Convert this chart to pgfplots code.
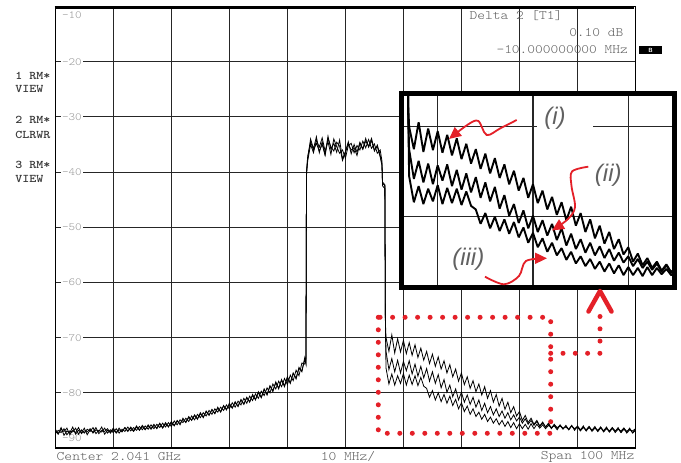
\documentclass[border=0pt]{standalone}
\usepackage{fontspec}
\usepackage{pgfplots}
\pgfplotsset{compat=1.18}
\usepackage{pgfplotstable}
\usetikzlibrary{arrows.meta}
\newfontfamily\cour{lmmonolt10-regular.otf}[FakeStretch=1.14, BoldFont=lmmonolt10-bold.otf, BoldFeatures={FakeStretch=1.14}]
\newfontfamily\isans{Liberation Sans}
\definecolor{annred}{RGB}{228,32,40}
\definecolor{ticklab}{RGB}{150,150,150}
\definecolor{txtgray}{RGB}{95,95,95}

\pgfplotstableread{
x a b c
0 -86.6 -87.4 -86.9
0.5 -87.4 -86.8 -87.5
1 -86.3 -87.2 -86.6
1.5 -87.7 -86.5 -87.0
2 -86.9 -87.6 -86.4
2.5 -87.3 -86.9 -87.6
3 -86.2 -87.1 -86.8
3.5 -87.5 -86.4 -87.2
4 -86.8 -87.5 -86.3
4.5 -87.2 -86.7 -87.4
5 -86.4 -87.3 -86.9
5.5 -87.6 -86.6 -87.1
6 -86.7 -87.0 -86.5
6.5 -87.1 -86.3 -87.3
7 -86.3 -87.4 -86.7
7.5 -87.4 -86.8 -87.0
8 -86.8 -87.1 -86.2
8.5 -87.0 -86.4 -87.5
9 -86.5 -87.3 -86.8
9.5 -87.3 -86.7 -87.1
10 -86.6 -87.2 -86.4
10.5 -87.2 -86.5 -87.3
11 -86.4 -87.3 -86.7
11.5 -87.1 -86.6 -87.0
12 -86.3 -87.0 -86.3
12.5 -87.0 -86.2 -86.9
13 -86.2 -86.9 -86.4
13.5 -86.9 -86.3 -87.0
14 -86.0 -86.8 -86.2
14.5 -86.8 -86.1 -86.7
15 -86.1 -86.7 -85.9
15.5 -86.7 -86.0 -86.6
16 -85.8 -86.6 -86.0
16.5 -86.5 -85.8 -86.6
17 -85.7 -86.5 -85.9
17.5 -86.5 -85.7 -86.4
18 -85.6 -86.3 -85.5
18.5 -86.3 -85.5 -86.4
19 -85.4 -86.2 -85.6
19.5 -86.2 -85.4 -86.1
20 -85.2 -86.1 -85.4
20.5 -86.0 -85.1 -85.9
21 -85.0 -85.8 -85.1
21.5 -85.8 -84.9 -85.6
22 -84.6 -85.4 -84.8
22.5 -85.4 -84.6 -85.3
23 -84.3 -85.2 -84.5
23.5 -85.0 -84.2 -84.9
24 -84.0 -84.9 -84.1
24.5 -84.8 -83.9 -84.7
25 -83.6 -84.5 -83.8
25.5 -84.5 -83.6 -84.4
26 -83.3 -84.2 -83.4
26.5 -84.1 -83.2 -84.0
27 -83.0 -83.9 -83.1
27.5 -83.8 -82.9 -83.7
28 -82.6 -83.5 -82.8
28.5 -83.5 -82.6 -83.4
29 -82.3 -83.2 -82.4
29.5 -83.1 -82.2 -83.0
30 -81.9 -82.9 -82.1
30.5 -82.8 -81.8 -82.7
31 -81.6 -82.6 -81.8
31.5 -82.5 -81.5 -82.4
32 -81.2 -82.2 -81.3
32.5 -82.1 -81.0 -82.0
33 -80.8 -81.9 -80.9
33.5 -81.7 -80.6 -81.6
34 -80.3 -81.4 -80.5
34.5 -81.3 -80.2 -81.2
35 -79.8 -81.0 -80.0
35.5 -80.9 -79.7 -80.8
36 -79.3 -80.5 -79.4
36.5 -80.4 -79.1 -80.3
37 -78.7 -80.0 -78.8
37.5 -79.8 -78.4 -79.6
38 -78.0 -79.3 -78.2
38.5 -79.3 -77.9 -79.1
39 -77.6 -78.9 -77.7
39.5 -78.9 -77.4 -78.7
40 -77.1 -78.5 -77.2
40.5 -78.3 -76.8 -78.2
41 -76.4 -77.8 -76.5
41.5 -77.5 -75.9 -77.3
42 -75.4 -76.9 -75.6
42.5 -76.2 -74.6 -76.0
43 -73.6 -74.8 -73.9
43.2 -74.5 -73.8 -74.8
43.3 -40.0 -40.5 -39.8
43.5 -37.5 -38.0 -37.2
44.0 -34.0 -35.0 -34.5
44.5 -35.8 -36.5 -36.0
45.0 -33.6 -34.2 -34.8
45.5 -36.5 -35.5 -36.2
46.0 -34.5 -33.8 -35.0
46.5 -36.8 -36.2 -37.0
47.0 -33.5 -34.5 -33.9
47.5 -35.9 -36.8 -35.4
48.0 -34.8 -34.0 -36.2
48.5 -36.4 -35.4 -34.6
49.0 -34.2 -36.6 -35.3
49.5 -37.6 -36.0 -37.9
50.0 -36.3 -37.5 -36.4
50.5 -34.5 -35.2 -34.9
51.0 -36.7 -34.8 -36.0
51.5 -35.0 -36.5 -35.6
52.0 -36.4 -35.2 -37.0
52.5 -34.6 -36.0 -34.8
53.0 -35.8 -34.4 -35.9
53.5 -33.9 -35.6 -34.4
54.0 -35.5 -34.1 -35.3
54.5 -34.3 -35.7 -33.9
55.0 -36.2 -34.9 -36.0
55.5 -35.1 -36.6 -35.4
56.0 -37.0 -36.0 -37.3
56.3 -38.5 -38.0 -38.8
56.4 -42.0 -42.5 -41.8
56.8 -42.5 -43.0 -42.3
56.9 -67.5 -68.5 -68.0
57.0 -70.0 -72.5 -75.5
57.5 -72.5 -75.8 -78.4
58.0 -69.5 -73.8 -76.6
58.5 -72.8 -76.2 -78.6
59.0 -70.2 -74.1 -76.9
59.5 -72.6 -76.4 -78.3
60.0 -70.5 -74.3 -76.5
60.5 -72.9 -76.0 -78.6
61.0 -70.9 -74.2 -76.8
61.5 -73.2 -76.6 -78.5
62.0 -71.3 -74.8 -76.9
62.5 -73.6 -77.0 -78.7
63.0 -71.9 -75.2 -77.2
63.5 -74.1 -77.3 -78.8
64.0 -72.5 -75.6 -79.2
64.5 -74.7 -77.9 -80.8
65.0 -73.0 -76.2 -79.6
65.5 -75.2 -78.3 -81.3
66.0 -73.5 -76.7 -80.0
66.5 -75.7 -79.1 -81.6
67.0 -74.2 -77.6 -80.3
67.5 -76.4 -79.9 -81.9
68.0 -74.9 -78.6 -80.6
68.5 -77.1 -80.7 -82.3
69.0 -75.7 -79.3 -81.2
69.5 -77.9 -81.3 -82.9
70.0 -76.4 -79.9 -81.8
70.5 -78.5 -81.7 -83.4
71.0 -77.1 -80.4 -82.4
71.5 -79.2 -82.1 -83.9
72.0 -77.8 -80.8 -82.9
72.5 -79.8 -82.6 -84.3
73.0 -78.4 -81.3 -83.5
73.5 -80.4 -83.2 -84.8
74.0 -78.9 -81.9 -83.9
74.5 -81.0 -83.6 -85.2
75.0 -79.6 -82.5 -84.4
75.5 -81.7 -84.0 -85.5
76.0 -80.3 -82.9 -84.7
76.5 -82.4 -84.3 -85.8
77.0 -81.0 -83.3 -85.0
77.5 -83.0 -84.6 -86.1
78.0 -81.7 -83.6 -85.2
78.5 -83.6 -84.9 -86.3
79.0 -82.5 -84.0 -85.4
79.5 -84.2 -85.1 -86.5
80.0 -83.4 -84.4 -85.6
80.5 -85.0 -85.5 -86.5
81.0 -84.1 -84.7 -85.7
81.5 -85.4 -85.7 -86.6
82.0 -84.6 -85.0 -85.6
82.5 -85.7 -85.9 -86.5
83.0 -85.0 -85.2 -85.7
83.5 -86.0 -86.1 -86.4
84.0 -85.3 -85.4 -85.8
84.5 -86.2 -86.2 -86.5
85.0 -85.5 -85.6 -85.9
85.5 -86.4 -86.5 -86.3
86.0 -85.7 -85.8 -86.0
86.5 -86.5 -86.3 -86.7
87.0 -85.8 -86.0 -85.9
87.5 -86.6 -86.5 -86.4
88.0 -85.9 -86.1 -86.2
88.5 -86.7 -86.7 -86.6
89.0 -86.0 -86.0 -85.9
89.5 -86.5 -86.6 -86.8
90.0 -86.1 -86.2 -86.0
90.5 -86.8 -86.9 -86.7
91.0 -86.0 -86.3 -86.2
91.5 -86.9 -86.7 -86.9
92.0 -86.3 -86.1 -86.1
92.5 -86.8 -87.0 -86.8
93.0 -86.1 -86.4 -86.3
93.5 -87.0 -86.8 -87.0
94.0 -86.4 -86.2 -86.2
94.5 -86.9 -87.1 -86.9
95.0 -86.2 -86.5 -86.4
95.5 -87.1 -86.9 -87.1
96.0 -86.5 -86.3 -86.3
96.5 -87.0 -87.2 -86.9
97.0 -86.3 -86.6 -86.5
97.5 -87.2 -86.9 -87.2
98.0 -86.6 -86.4 -86.4
98.5 -87.1 -87.3 -87.0
99.0 -86.4 -86.7 -86.6
99.5 -87.3 -86.9 -87.2
100 -86.8 -86.5 -86.7
}\spec

\begin{document}
\begin{tikzpicture}
\path[use as bounding box] (0,0) rectangle (681pt,463pt);
% ---------------- main analyzer screen ----------------
\begin{axis}[
  at={(55.3pt,15pt)}, anchor=south west, scale only axis,
  width=580.2pt, height=441.5pt,
  xmin=0, xmax=100, ymin=-90, ymax=-10,
  xtick={0,10,...,100}, ytick={-90,-80,...,-10},
  xticklabel={\mbox{}}, yticklabel={\mbox{}},
  major tick length=0pt,
  grid=major, major grid style={black!85, line width=1.1pt},
  axis line style={line width=1.2pt},
]
\begin{scope}[every node/.style={font=\cour\fontsize{11}{12}\selectfont, text=ticklab, inner xsep=1pt, inner ysep=0.5pt, anchor=west}]
\node at (axis cs:0.95,-11.55) {-10};
\node[fill=white] at (axis cs:0.95,-20) {-20};
\node[fill=white] at (axis cs:0.95,-30) {-30};
\node[fill=white] at (axis cs:0.95,-40) {-40};
\node[fill=white] at (axis cs:0.95,-50) {-50};
\node[fill=white] at (axis cs:0.95,-60) {-60};
\node[fill=white] at (axis cs:0.95,-70) {-70};
\node[fill=white] at (axis cs:0.95,-80) {-80};
\node at (axis cs:0.95,-88.2) {-90};
\end{scope}
\addplot[black, line width=0.8pt, mark=none] table[x=x, y=a] {\spec};
\addplot[black, line width=0.8pt, mark=none] table[x=x, y=b] {\spec};
\addplot[black, line width=0.8pt, mark=none] table[x=x, y=c] {\spec};
\end{axis}

% ---------------- inset (zoomed region) ----------------
\begin{axis}[
  at={(401pt,175.5pt)}, anchor=south west, scale only axis,
  width=273.5pt, height=193.5pt,
  xmin=56.15, xmax=84.85, ymin=-87.87, ymax=-66.37,
  xtick={60,70,80}, ytick={-80,-70},
  xticklabel={\mbox{}}, yticklabel={\mbox{}},
  major tick length=0pt,
  grid=major, major grid style={black!85, line width=1.2pt},
  axis line style={line width=5pt},
  axis background/.style={fill=white},
]
\addplot[black, line width=1.9pt, mark=none, line join=bevel] table[x=x, y=a] {\spec};
\addplot[black, line width=1.9pt, mark=none, line join=bevel] table[x=x, y=b] {\spec};
\addplot[black, line width=1.9pt, mark=none, line join=bevel] table[x=x, y=c] {\spec};
\end{axis}

% ---------------- annotations (image pixel coordinates) ----------------
\begin{scope}[shift={(0pt,463pt)}, x=1pt, y=-1pt]
% thick top border of the screen
\draw[line width=3pt] (54.7,7.4) -- (634.2,7.4);
% trace labels on the left
\begin{scope}[every node/.style={font=\cour\bfseries\fontsize{11.7}{12}\selectfont, text=black!78, anchor=west, inner sep=0pt}]
\node at (15.2,75.7) {1 RM*};
\node at (15.2,89.3) {VIEW};
\node at (15.2,120.3) {2 RM*};
\node at (15.2,134.8) {CLRWR};
\node at (15.2,165.3) {3 RM*};
\node at (15.2,179.3) {VIEW};
\end{scope}
% marker readout
\begin{scope}[every node/.style={font=\cour\fontsize{12.9}{13}\selectfont, text=txtgray, inner sep=0pt}]
\node[anchor=west] at (469.5,15.3) {Delta 2 [T1]};
\node[anchor=east] at (623.5,32.3) {0.10 dB};
\node[anchor=east] at (628,49.3) {-10.000000000 MHz};
\end{scope}
\fill[black] (639,45.6) rectangle (662,54.4);
\node[text=white, font=\sffamily\bfseries\fontsize{6}{6}\selectfont, inner sep=0pt] at (650.5,50) {B};
% bottom annotation line
\begin{scope}[every node/.style={font=\cour\fontsize{13}{14}\selectfont, text=txtgray, inner sep=0pt}]
\node[anchor=west] at (56.5,456.6) {Center 2.041 GHz};
\node at (348,456.6) {10 MHz/};
\node[anchor=east] at (634.5,456.6) {Span 100 MHz};
\end{scope}
% red dotted zoom box and connector
\draw[annred, line width=5pt, line cap=round, dash pattern=on 0pt off 12.5pt]
  (378.3,317.3) rectangle (550.7,433.3);
\draw[annred, line width=5pt, line cap=round, dash pattern=on 0pt off 12.3pt]
  (550.7,353.3) -- (600,353.3) -- (600,305);
\draw[annred, line width=4.5pt, line cap=round, line join=round]
  (588.5,311.5) -- (600,291) -- (611.5,311.5);
% inset labels and arrows
\fill[white] (537,122.5) rectangle (593,131);
\begin{scope}[every node/.style={font=\isans\itshape\fontsize{24}{25}\selectfont, text=black!62, inner sep=0pt}]
\node at (555,118.5) {(i)};
\node at (608.3,175) {(ii)};
\node at (468.3,259) {(iii)};
\end{scope}
\draw[annred, line width=1.8pt, -{Triangle[length=12pt,width=11pt]}]
  plot[smooth, tension=0.55] coordinates {(516.7,120) (500,128.5) (486.7,135) (478.3,121) (468,124.5) (449,139)};
\draw[annred, line width=1.8pt, -{Triangle[length=12pt,width=11pt]}]
  plot[smooth, tension=0.55] coordinates {(588.3,166.7) (572,171.5) (571.5,186) (575,207) (568,219) (552,230.5)};
\draw[annred, line width=1.8pt, -{Triangle[length=12pt,width=11pt]}]
  plot[smooth, tension=0.55] coordinates {(485,276.7) (504,284.3) (519,276) (526,261) (547,258.3)};
\end{scope}
\end{tikzpicture}
\end{document}
